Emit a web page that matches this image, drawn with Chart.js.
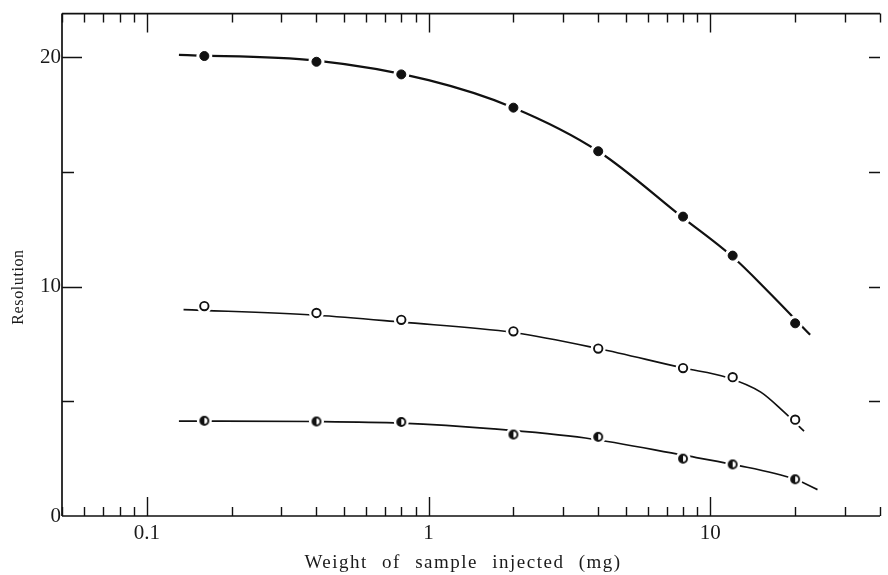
<!DOCTYPE html>
<html>
<head>
<meta charset="utf-8">
<script src="https://cdn.jsdelivr.net/npm/chart.js@4.4.1/dist/chart.umd.min.js"></script>
<style>
  html, body { margin: 0; padding: 0; background: #fff; }
  #wrap { width: 888px; height: 575px; position: relative; }
</style>
</head>
<body>
<div id="wrap"><canvas id="c" width="888" height="575"></canvas></div>
<script>
// ---- data ----
const weights = [0.16, 0.4, 0.8, 2, 4, 8, 12, 20];           // mg
const resFilled = [20.05, 19.8, 19.25, 17.8, 15.9, 13.05, 11.35, 8.4];
const resOpen   = [9.15, 8.85, 8.55, 8.05, 7.3, 6.45, 6.05, 4.2];
const resHalf   = [4.15, 4.12, 4.1, 3.55, 3.45, 2.5, 2.25, 1.6];

// fitted curves
const fitFilledX = [0.13, 0.4, 1, 2, 4, 8, 12, 16, 22.6];
const fitFilledY = [20.1, 19.85, 19.0, 17.8, 15.9, 13.0, 11.3, 9.8, 7.9];
const fitOpenX   = [0.135, 0.4, 0.8, 2, 4, 8, 11.4, 15.1, 18.2, 21.5];
const fitOpenY   = [9.0, 8.75, 8.45, 8.0, 7.3, 6.45, 6.05, 5.4, 4.55, 3.7];
const fitHalfX   = [0.13, 0.4, 0.8, 1.7, 3.6, 8, 12, 20, 24];
const fitHalfY   = [4.14, 4.12, 4.05, 3.8, 3.4, 2.65, 2.25, 1.6, 1.15];

const xMajorTicks = [0.1, 1, 10];
const xTickLabels = ['0.1', '1', '10'];
const yMajorTicks = [0, 10, 20];
const yMinorTicks = [5, 15];
const xTitle = 'Weight of sample injected (mg)';
const yTitle = 'Resolution';

const pts = (xs, ys) => xs.map((x, i) => ({x: x, y: ys[i]}));

// half-filled marker
function halfMarker(r) {
  const s = Math.ceil(r * 2 + 4);
  const cv = document.createElement('canvas');
  cv.width = s; cv.height = s;
  const g = cv.getContext('2d');
  const c = s / 2;
  g.beginPath(); g.arc(c, c, r, 0, Math.PI * 2);
  g.fillStyle = '#fff'; g.fill();
  g.beginPath(); g.arc(c, c, r, Math.PI / 2, Math.PI * 1.5);
  g.closePath(); g.fillStyle = '#111'; g.fill();
  g.beginPath(); g.arc(c, c, r, 0, Math.PI * 2);
  g.lineWidth = 1.9; g.strokeStyle = '#111'; g.stroke();
  return cv;
}

const serif = '"Liberation Serif", "DejaVu Serif", serif';

const framePlugin = {
  id: 'frame',
  afterDraw(chart) {
    const ctx = chart.ctx;
    const a = chart.chartArea;
    const xs = chart.scales.x, ys = chart.scales.y;
    ctx.save();
    ctx.strokeStyle = '#111';
    ctx.lineWidth = 1.7;
    // frame: left, bottom, top
    ctx.beginPath();
    ctx.moveTo(a.left, a.top); ctx.lineTo(a.left, a.bottom);
    ctx.moveTo(a.left, a.bottom); ctx.lineTo(a.right, a.bottom);
    ctx.moveTo(a.left, a.top); ctx.lineTo(a.right, a.top);
    ctx.stroke();
    // x ticks (bottom and top, inward)
    ctx.lineWidth = 1.4;
    ctx.beginPath();
    for (let d = -2; d <= 1; d++) {
      for (let m = 1; m <= 9; m++) {
        const v = m * Math.pow(10, d);
        if (v < xs.min || v > xs.max) continue;
        const px = Math.round(xs.getPixelForValue(v)) + 0.5;
        const len = (m === 1) ? 19 : 9;
        ctx.moveTo(px, a.bottom); ctx.lineTo(px, a.bottom - len);
        ctx.moveTo(px, a.top); ctx.lineTo(px, a.top + len);
      }
    }
    ctx.stroke();
    // y ticks (left long/short, right short)
    ctx.beginPath();
    yMajorTicks.concat(yMinorTicks).forEach(v => {
      if (v === 0) return;
      const py = Math.round(ys.getPixelForValue(v)) + 0.5;
      const len = yMajorTicks.includes(v) ? 20 : 12;
      ctx.moveTo(a.left, py); ctx.lineTo(a.left + len, py);
      ctx.moveTo(a.right, py); ctx.lineTo(a.right - 11, py);
    });
    ctx.stroke();
    // axis titles
    ctx.fillStyle = '#1a1a1a';
    ctx.font = '19px ' + serif;
    ctx.textAlign = 'center';
    ctx.textBaseline = 'alphabetic';
    try { ctx.letterSpacing = '1.5px'; ctx.wordSpacing = '8px'; } catch (e) {}
    ctx.fillText(xTitle, 463, 568);
    try { ctx.letterSpacing = '0.6px'; ctx.wordSpacing = '0px'; } catch (e) {}
    ctx.translate(23, 287);
    ctx.rotate(-Math.PI / 2);
    ctx.font = '16px ' + serif;
    ctx.fillText(yTitle, 0, 0);
    ctx.restore();
  }
};

new Chart(document.getElementById('c'), {
  type: 'scatter',
  data: {
    datasets: [
      { type: 'line', data: pts(fitFilledX, fitFilledY), borderColor: '#111', borderWidth: 2.2,
        pointRadius: 0, cubicInterpolationMode: 'monotone', fill: false, order: 5 },
      { type: 'line', data: pts(fitOpenX, fitOpenY), borderColor: '#111', borderWidth: 1.7,
        pointRadius: 0, cubicInterpolationMode: 'monotone', fill: false, order: 5 },
      { type: 'line', data: pts(fitHalfX, fitHalfY), borderColor: '#111', borderWidth: 1.7,
        pointRadius: 0, cubicInterpolationMode: 'monotone', fill: false, order: 5 },
      // white halos that open gaps in the curves around each marker
      { data: pts(weights, resFilled), pointRadius: 8, pointBackgroundColor: '#fff', pointBorderWidth: 0, order: 3 },
      { data: pts(weights, resOpen), pointRadius: 7.5, pointBackgroundColor: '#fff', pointBorderWidth: 0, order: 3 },
      { data: pts(weights, resHalf), pointRadius: 7.5, pointBackgroundColor: '#fff', pointBorderWidth: 0, order: 3 },
      // markers
      { data: pts(weights, resFilled), pointRadius: 4.5, pointBackgroundColor: '#111',
        pointBorderColor: '#111', pointBorderWidth: 1, order: 1 },
      { data: pts(weights, resOpen), pointRadius: 4.2, pointBackgroundColor: '#fff',
        pointBorderColor: '#111', pointBorderWidth: 1.9, order: 1 },
      { data: pts(weights, resHalf), pointStyle: halfMarker(4), order: 1 }
    ]
  },
  options: {
    responsive: false,
    animation: false,
    events: [],
    layout: { padding: { top: 13, right: 0, left: 0, bottom: 0 } },
    plugins: { legend: { display: false }, tooltip: { enabled: false } },
    scales: {
      x: {
        type: 'logarithmic', min: 0.05, max: 40,
        grid: { display: false, drawTicks: false },
        border: { display: false },
        afterBuildTicks: s => { s.ticks = xMajorTicks.map(v => ({ value: v, major: true })); },
        afterFit: s => { s.height = 59; },
        ticks: {
          autoSkip: false, maxRotation: 0, padding: 5,
          color: '#1a1a1a', font: { family: serif, size: 21 },
          callback: (v) => { const i = xMajorTicks.indexOf(v); return i >= 0 ? xTickLabels[i] : ''; }
        }
      },
      y: {
        type: 'linear', min: 0, max: 21.9,
        grid: { display: false, drawTicks: false },
        border: { display: false },
        afterBuildTicks: s => { s.ticks = yMajorTicks.map(v => ({ value: v })); },
        afterFit: s => { s.width = 62; },
        ticks: { padding: 1, color: '#1a1a1a', font: { family: serif, size: 21 } }
      }
    }
  },
  plugins: [framePlugin]
});
</script>
</body>
</html>
